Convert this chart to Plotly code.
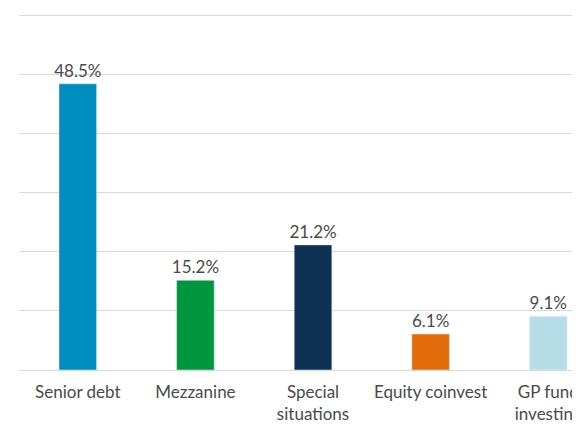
import plotly.graph_objects as go

categorias = ['Senior debt', 'Mezzanine', 'Special<br>situations', 'Equity coinvest', 'GP fund<br>investing']
valores = [48.5, 15.2, 21.2, 6.1, 9.1]
rotulos = ['48.5%', '15.2%', '21.2%', '6.1%', '9.1%']
cores = ['#008DBF', '#00963F', '#0D3253', '#E36C0A', '#B7DEE8']

# a pagina tem margem de 8px no body, por isso a figura fica menor
fig = go.Figure(go.Bar(
    x=categorias,
    y=valores,
    text=rotulos,
    textposition='outside',
    constraintext='none',
    textfont=dict(size=17, color='#4a4a4a'),
    marker=dict(color=cores),
    width=0.32,
    cliponaxis=False,
))

fig.update_layout(
    width=572,
    height=427,
    margin=dict(l=11, r=0, t=2, b=65),
    plot_bgcolor='white',
    paper_bgcolor='white',
    font=dict(family='Lato', size=17, color='#4a4a4a'),
    showlegend=False,
)
fig.update_xaxes(range=[-0.5, 4.27], showgrid=False, ticks='',
                 tickfont=dict(size=17, color='#4a4a4a'),
                 ticklabelstandoff=10, automargin=False)
fig.update_yaxes(range=[0, 61], dtick=10, showticklabels=False, gridcolor='#D9D9D9', gridwidth=1,
                 zeroline=True, zerolinecolor='#D9D9D9', zerolinewidth=1, automargin=False)

fig.write_html('out.html')
